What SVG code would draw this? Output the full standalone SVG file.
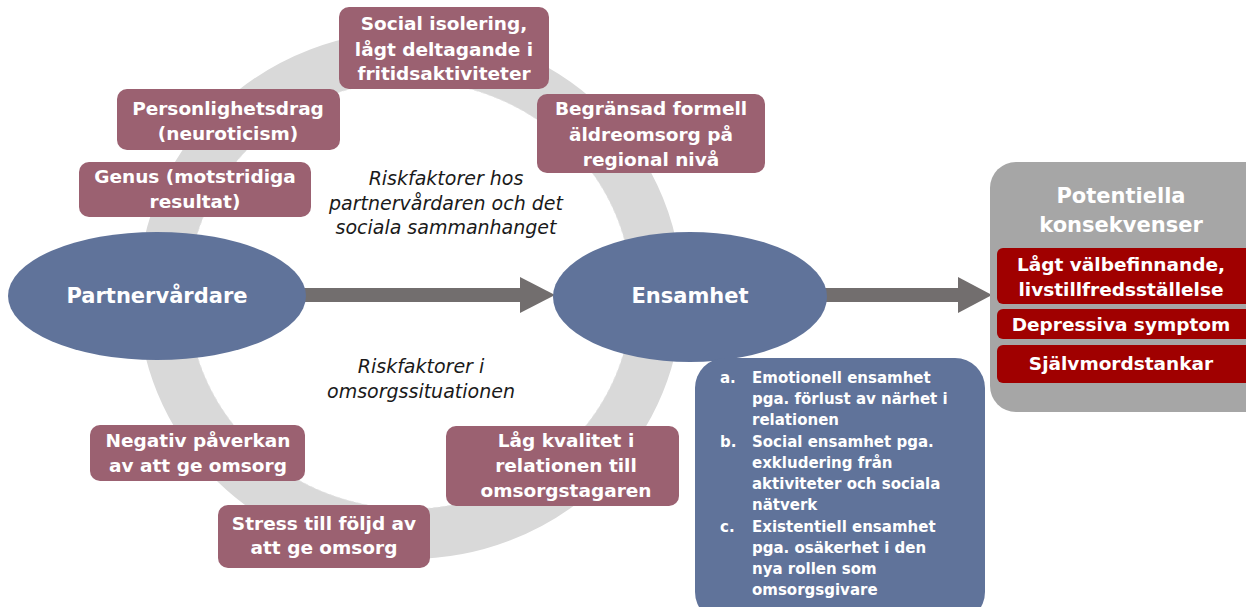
<svg xmlns="http://www.w3.org/2000/svg" width="1246" height="607" viewBox="0 0 1246 607">
<style>
.box{fill:#9b6171}
.bt{font-family:"DejaVu Sans","Liberation Sans",sans-serif;font-weight:bold;font-size:18.5px;fill:#fff;text-anchor:middle}
.it{font-family:"DejaVu Sans","Liberation Sans",sans-serif;font-style:italic;font-size:19px;fill:#1a1a1a;text-anchor:middle}
.ell{fill:#60739a}
.et{font-family:"DejaVu Sans","Liberation Sans",sans-serif;font-weight:bold;font-size:21px;fill:#fff;text-anchor:middle}
.red{fill:#a00000}
.rt{font-family:"DejaVu Sans","Liberation Sans",sans-serif;font-weight:bold;font-size:18.5px;fill:#fff;text-anchor:middle}
.lt{font-family:"DejaVu Sans","Liberation Sans",sans-serif;font-weight:bold;font-size:15px;fill:#fff}
.arr{fill:#726e6e}
</style>
<rect width="1246" height="607" fill="#fff"/>
<g id="ring">
<ellipse cx="410" cy="295" rx="247" ry="239" fill="none" stroke="#d9d9d9" stroke-width="50"/>
<ellipse cx="410" cy="295" rx="222" ry="214" fill="none" stroke="#e2e2e2" stroke-width="0.8" stroke-dasharray="4 3"/>
</g>
<g id="connectors">
<rect class="arr" x="303" y="288" width="220" height="14"/>
<polygon class="arr" points="520,277 555,295 520,313"/>
<rect class="arr" x="825" y="288" width="136" height="14"/>
<polygon class="arr" points="958,277 992,295 958,313"/>
</g>
<g id="n-partner">
<ellipse class="ell" cx="157" cy="296" rx="149" ry="64"/>
<text class="et" x="157" y="303">Partnervårdare</text>
</g>
<g id="n-ensamhet">
<ellipse class="ell" cx="690" cy="297" rx="137" ry="65"/>
<text class="et" x="690" y="303">Ensamhet</text>
</g>
<g id="n-social">
<rect class="box" x="339" y="7" width="210" height="82" rx="10"/>
<text class="bt" x="444" y="30">Social isolering,</text>
<text class="bt" x="444" y="56">lågt deltagande i</text>
<text class="bt" x="444" y="80">fritidsaktiviteter</text>
</g>
<g id="n-person">
<rect class="box" x="117" y="89" width="223" height="61" rx="10"/>
<text class="bt" x="228" y="115">Personlighetsdrag</text>
<text class="bt" x="228" y="140">(neuroticism)</text>
</g>
<g id="n-begransad">
<rect class="box" x="537" y="94" width="228" height="79" rx="10"/>
<text class="bt" x="651" y="115">Begränsad formell</text>
<text class="bt" x="651" y="141">äldreomsorg på</text>
<text class="bt" x="651" y="166">regional nivå</text>
</g>
<g id="n-genus">
<rect class="box" x="79" y="162" width="232" height="55" rx="10"/>
<text class="bt" x="195" y="183">Genus (motstridiga</text>
<text class="bt" x="195" y="208">resultat)</text>
</g>
<g id="t-risk1">
<text class="it" x="446" y="185">Riskfaktorer hos</text>
<text class="it" x="446" y="210">partnervårdaren och det</text>
<text class="it" x="446" y="234">sociala sammanhanget</text>
</g>
<g id="t-risk2">
<text class="it" x="421" y="373">Riskfaktorer i</text>
<text class="it" x="421" y="398">omsorgssituationen</text>
</g>
<g id="n-negativ">
<rect class="box" x="90" y="425" width="215" height="56" rx="10"/>
<text class="bt" x="198" y="447">Negativ påverkan</text>
<text class="bt" x="198" y="472">av att ge omsorg</text>
</g>
<g id="n-lag">
<rect class="box" x="446" y="426" width="233" height="80" rx="10"/>
<text class="bt" x="566" y="447">Låg kvalitet i</text>
<text class="bt" x="566" y="472">relationen till</text>
<text class="bt" x="566" y="497">omsorgstagaren</text>
</g>
<g id="n-stress">
<rect class="box" x="218" y="505" width="212" height="63" rx="10"/>
<text class="bt" x="324" y="530">Stress till följd av</text>
<text class="bt" x="324" y="554">att ge omsorg</text>
</g>
<g id="n-list">
<rect class="ell" x="695" y="358" width="290" height="264" rx="30"/>
<text class="lt" x="720" y="383">a.</text>
<text class="lt" x="752" y="383">Emotionell ensamhet</text>
<text class="lt" x="752" y="404">pga. förlust av närhet i</text>
<text class="lt" x="752" y="425">relationen</text>
<text class="lt" x="720" y="447">b.</text>
<text class="lt" x="752" y="447">Social ensamhet pga.</text>
<text class="lt" x="752" y="468">exkludering från</text>
<text class="lt" x="752" y="489">aktiviteter och sociala</text>
<text class="lt" x="752" y="510">nätverk</text>
<text class="lt" x="720" y="532">c.</text>
<text class="lt" x="752" y="532">Existentiell ensamhet</text>
<text class="lt" x="752" y="553">pga. osäkerhet i den</text>
<text class="lt" x="752" y="574">nya rollen som</text>
<text class="lt" x="752" y="595">omsorgsgivare</text>
</g>
<g id="n-konsekvenser">
<rect x="990" y="162" width="280" height="250" rx="26" fill="#a6a6a6"/>
<text class="et" x="1121" y="203">Potentiella</text>
<text class="et" x="1121" y="232">konsekvenser</text>
</g>
<g id="n-lagt">
<rect class="red" x="997" y="248" width="260" height="56" rx="6"/>
<text class="rt" x="1121" y="271">Lågt välbefinnande,</text>
<text class="rt" x="1121" y="296">livstillfredsställelse</text>
</g>
<g id="n-depr">
<rect class="red" x="997" y="309" width="260" height="30" rx="6"/>
<text class="rt" x="1121" y="331">Depressiva symptom</text>
</g>
<g id="n-sjalv">
<rect class="red" x="997" y="345" width="260" height="38" rx="6"/>
<text class="rt" x="1121" y="370">Självmordstankar</text>
</g>
</svg>
